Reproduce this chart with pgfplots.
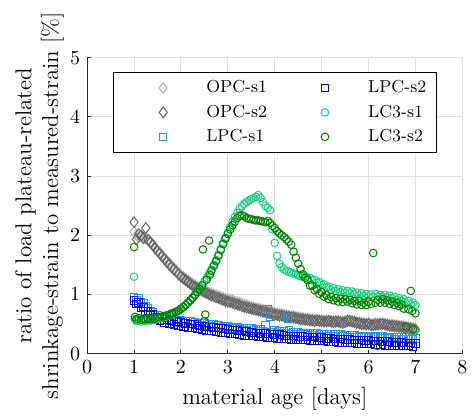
\documentclass[border=0pt]{standalone}
\usepackage{pgfplots}
\pgfplotsset{compat=1.18}
\definecolor{opcA}{RGB}{180,180,180}
\definecolor{opcB}{RGB}{100,100,100}
\definecolor{lpcA}{RGB}{30,150,255}
\definecolor{lpcB}{RGB}{0,0,255}
\definecolor{lcA}{RGB}{20,210,120}
\definecolor{lcB}{RGB}{0,128,0}
\definecolor{gridc}{RGB}{225,225,225}
\begin{document}
\begin{tikzpicture}
\path (-43.65pt,-30.85pt) rectangle (193.35pt,177.15pt);
\begin{axis}[
  scale only axis, width=188pt, height=148.25pt,
  xmin=0, xmax=8, ymin=0, ymax=5,
  xtick={0,1,...,8}, ytick={0,1,...,5},
  axis lines*=left, axis line style={-, black!85, line width=0.5pt},
  tick style={black!85, line width=0.5pt}, major tick length=2pt,
  tick align=inside,
  grid=major, grid style={gridc, line width=0.5pt},
  xlabel={material age [days]},
  ylabel={ratio of load plateau-related\\shrinkage-strain to measured-strain [\%]},
  label style={font=\fontsize{11.5}{13.5}\selectfont},
  every axis y label/.style={at={(axis description cs:-0.043,0.5)}, rotate=90, anchor=south, align=center, font=\fontsize{11.5}{13.5}\selectfont},
  legend columns=3, transpose legend,
  legend cell align=left,
  legend style={at={(0.0684,0.952)}, anchor=north west, font=\fontsize{8.7}{10}\selectfont,
     draw=black, line width=0.5pt, fill=white, row sep=0.6pt,
     /tikz/every even column/.append style={column sep=5pt}},
  every axis plot/.append style={only marks, mark options={line width=0.5pt, fill=none}},
  legend image code/.code={\path[draw=none,fill=none] (0pt,0pt) (41.6pt,0pt); \draw[#1] plot coordinates {(22pt,0pt)};},
]
\addplot[color=opcA, mark=diamond, mark size=2.7pt] coordinates {
(1.00,2.06)(1.05,2.00)(1.10,1.97)(1.15,2.00)(1.20,1.96)(1.25,1.94)(1.30,1.93)(1.35,1.89)(1.40,1.85)(1.45,1.80)
(1.50,1.75)(1.55,1.71)(1.60,1.66)(1.65,1.62)(1.70,1.57)(1.75,1.53)(1.80,1.49)(1.85,1.45)(1.90,1.41)(1.95,1.37)
(2.00,1.33)(2.05,1.30)(2.10,1.27)(2.15,1.24)(2.20,1.21)(2.25,1.18)(2.30,1.16)(2.35,1.13)(2.40,1.11)(2.45,1.09)
(2.50,1.07)(2.55,1.05)(2.60,1.03)(2.65,1.02)(2.70,1.00)(2.75,0.99)(2.80,0.97)(2.85,0.96)(2.90,0.94)(2.95,0.93)
(3.00,0.92)(3.05,0.91)(3.10,0.90)(3.15,0.88)(3.20,0.87)(3.25,0.86)(3.30,0.84)(3.35,0.83)(3.40,0.82)(3.45,0.80)
(3.50,0.79)(3.55,0.78)(3.60,0.77)(3.65,0.76)(3.70,0.75)(3.75,0.74)(3.80,0.73)(3.85,0.72)(3.90,0.71)(3.95,0.70)
(4.00,0.69)(4.05,0.68)(4.10,0.67)(4.15,0.67)(4.20,0.66)(4.25,0.65)(4.30,0.64)(4.35,0.63)(4.40,0.63)(4.45,0.62)
(4.50,0.61)(4.55,0.61)(4.60,0.60)(4.65,0.59)(4.70,0.59)(4.75,0.58)(4.80,0.58)(4.85,0.57)(4.90,0.57)(4.95,0.57)
(5.00,0.56)(5.05,0.56)(5.10,0.56)(5.15,0.56)(5.20,0.55)(5.25,0.55)(5.30,0.55)(5.35,0.55)(5.40,0.54)(5.45,0.54)
(5.50,0.55)(5.55,0.56)(5.60,0.56)(5.65,0.55)(5.70,0.54)(5.75,0.53)(5.80,0.53)(5.85,0.52)(5.90,0.51)(5.95,0.51)
(6.00,0.51)(6.05,0.50)(6.10,0.50)(6.15,0.51)(6.20,0.51)(6.25,0.51)(6.30,0.51)(6.35,0.50)(6.40,0.50)(6.45,0.49)
(6.50,0.49)(6.55,0.48)(6.60,0.48)(6.65,0.47)(6.70,0.47)(6.75,0.46)(6.80,0.45)(6.85,0.45)(6.90,0.44)(6.95,0.43)
(7.00,0.42)};
\addlegendentry{OPC-s1}
\addplot[color=opcB, mark=diamond, mark size=2.7pt] coordinates {
(1.00,2.22)(1.05,1.93)(1.10,2.02)(1.15,1.99)(1.20,1.95)(1.25,2.12)(1.30,1.92)(1.35,1.88)(1.40,1.83)(1.45,1.78)
(1.50,1.73)(1.55,1.69)(1.60,1.64)(1.65,1.59)(1.70,1.55)(1.75,1.50)(1.80,1.46)(1.85,1.42)(1.90,1.38)(1.95,1.34)
(2.00,1.30)(2.05,1.27)(2.10,1.24)(2.15,1.21)(2.20,1.18)(2.25,1.15)(2.30,1.13)(2.35,1.10)(2.40,1.08)(2.45,1.06)
(2.50,1.04)(2.55,1.02)(2.60,1.00)(2.65,0.98)(2.70,0.97)(2.75,0.95)(2.80,0.94)(2.85,0.92)(2.90,0.91)(2.95,0.89)
(3.00,0.88)(3.05,0.87)(3.10,0.86)(3.15,0.84)(3.20,0.83)(3.25,0.82)(3.30,0.80)(3.35,0.79)(3.40,0.78)(3.45,0.77)
(3.50,0.76)(3.55,0.75)(3.60,0.74)(3.65,0.73)(3.70,0.72)(3.75,0.71)(3.80,0.70)(3.85,0.69)(3.90,0.68)(3.95,0.67)
(4.00,0.66)(4.05,0.65)(4.10,0.64)(4.15,0.64)(4.20,0.63)(4.25,0.62)(4.30,0.62)(4.35,0.61)(4.40,0.61)(4.45,0.60)
(4.50,0.59)(4.55,0.58)(4.60,0.58)(4.65,0.57)(4.70,0.57)(4.75,0.56)(4.80,0.56)(4.85,0.55)(4.90,0.56)(4.95,0.55)
(5.00,0.55)(5.05,0.54)(5.10,0.54)(5.15,0.55)(5.20,0.54)(5.25,0.53)(5.30,0.54)(5.35,0.54)(5.40,0.53)(5.45,0.52)
(5.50,0.53)(5.55,0.55)(5.60,0.55)(5.65,0.54)(5.70,0.53)(5.75,0.52)(5.80,0.51)(5.85,0.50)(5.90,0.50)(5.95,0.49)
(6.00,0.50)(6.05,0.48)(6.10,0.48)(6.15,0.49)(6.20,0.49)(6.25,0.50)(6.30,0.50)(6.35,0.49)(6.40,0.48)(6.45,0.47)
(6.50,0.47)(6.55,0.46)(6.60,0.46)(6.65,0.45)(6.70,0.45)(6.75,0.44)(6.80,0.43)(6.85,0.42)(6.90,0.42)(6.95,0.41)
(7.00,0.40)};
\addlegendentry{OPC-s2}
\addplot[color=lpcA, mark=square, mark size=1.9pt] coordinates {
(1.00,0.95)(1.05,0.90)(1.10,0.93)(1.15,0.87)(1.20,0.85)(1.25,0.80)(1.30,0.77)(1.35,0.72)(1.40,0.70)(1.45,0.65)
(1.50,0.65)(1.55,0.61)(1.60,0.62)(1.65,0.58)(1.70,0.60)(1.75,0.56)(1.80,0.58)(1.85,0.54)(1.90,0.57)(1.95,0.53)
(2.00,0.56)(2.05,0.52)(2.10,0.55)(2.15,0.51)(2.20,0.54)(2.25,0.50)(2.30,0.53)(2.35,0.49)(2.40,0.52)(2.45,0.48)
(2.50,0.51)(2.55,0.47)(2.60,0.50)(2.65,0.46)(2.70,0.49)(2.75,0.45)(2.80,0.48)(2.85,0.44)(2.90,0.47)(2.95,0.43)
(3.00,0.46)(3.05,0.42)(3.10,0.45)(3.15,0.42)(3.20,0.44)(3.25,0.41)(3.30,0.43)(3.35,0.40)(3.40,0.43)(3.45,0.39)
(3.50,0.42)(3.55,0.39)(3.60,0.41)(3.65,0.38)(3.70,0.41)(3.75,0.37)(3.80,0.48)(3.85,0.75)(3.90,0.62)(3.95,0.36)
(4.00,0.39)(4.05,0.35)(4.10,0.38)(4.15,0.35)(4.20,0.37)(4.25,0.34)(4.28,0.59)(4.30,0.39)(4.35,0.33)(4.40,0.36)
(4.45,0.33)(4.50,0.36)(4.55,0.32)(4.60,0.35)(4.65,0.32)(4.70,0.35)(4.75,0.31)(4.80,0.34)(4.85,0.31)(4.90,0.34)
(4.95,0.30)(5.00,0.33)(5.05,0.30)(5.10,0.33)(5.15,0.30)(5.20,0.32)(5.25,0.29)(5.30,0.32)(5.35,0.29)(5.40,0.32)
(5.45,0.29)(5.50,0.31)(5.55,0.28)(5.60,0.31)(5.65,0.28)(5.70,0.31)(5.75,0.28)(5.80,0.30)(5.85,0.27)(5.90,0.30)
(5.95,0.27)(6.00,0.30)(6.05,0.27)(6.10,0.29)(6.15,0.27)(6.20,0.29)(6.25,0.26)(6.30,0.29)(6.35,0.26)(6.40,0.28)
(6.45,0.26)(6.50,0.28)(6.55,0.25)(6.60,0.28)(6.65,0.25)(6.70,0.27)(6.75,0.25)(6.80,0.27)(6.85,0.24)(6.90,0.27)
(6.95,0.24)(7.00,0.26)};
\addlegendentry{LPC-s1}
\addplot[color=lpcB, mark=square, mark size=1.9pt] coordinates {
(1.00,0.90)(1.05,0.84)(1.10,0.86)(1.15,0.78)(1.20,0.79)(1.25,0.71)(1.30,0.72)(1.35,0.64)(1.40,0.66)(1.45,0.58)
(1.50,0.62)(1.55,0.55)(1.60,0.60)(1.65,0.53)(1.70,0.58)(1.75,0.51)(1.80,0.56)(1.85,0.49)(1.90,0.54)(1.95,0.47)
(2.00,0.53)(2.05,0.46)(2.10,0.51)(2.15,0.44)(2.20,0.50)(2.25,0.43)(2.30,0.49)(2.35,0.42)(2.40,0.47)(2.45,0.41)
(2.50,0.46)(2.55,0.39)(2.60,0.45)(2.65,0.38)(2.70,0.44)(2.75,0.37)(2.80,0.43)(2.85,0.36)(2.90,0.42)(2.95,0.35)
(3.00,0.41)(3.05,0.34)(3.10,0.40)(3.15,0.33)(3.20,0.39)(3.25,0.32)(3.30,0.38)(3.35,0.31)(3.40,0.37)(3.45,0.30)
(3.50,0.36)(3.55,0.30)(3.60,0.35)(3.65,0.29)(3.70,0.34)(3.75,0.28)(3.80,0.34)(3.85,0.27)(3.90,0.33)(3.95,0.27)
(4.00,0.32)(4.05,0.26)(4.10,0.32)(4.15,0.25)(4.20,0.31)(4.25,0.25)(4.30,0.30)(4.35,0.24)(4.40,0.30)(4.45,0.24)
(4.50,0.29)(4.55,0.23)(4.60,0.29)(4.65,0.23)(4.70,0.28)(4.75,0.22)(4.80,0.28)(4.85,0.22)(4.90,0.27)(4.95,0.21)
(5.00,0.27)(5.05,0.21)(5.10,0.26)(5.15,0.20)(5.20,0.26)(5.25,0.20)(5.30,0.25)(5.35,0.19)(5.40,0.25)(5.45,0.19)
(5.50,0.24)(5.55,0.18)(5.60,0.24)(5.65,0.18)(5.70,0.23)(5.75,0.17)(5.80,0.23)(5.85,0.17)(5.90,0.22)(5.95,0.16)
(6.00,0.22)(6.05,0.16)(6.10,0.21)(6.15,0.15)(6.20,0.21)(6.25,0.15)(6.30,0.20)(6.35,0.14)(6.40,0.20)(6.45,0.14)
(6.50,0.19)(6.55,0.14)(6.60,0.19)(6.65,0.13)(6.70,0.19)(6.75,0.13)(6.80,0.18)(6.85,0.13)(6.90,0.18)(6.95,0.12)
(7.00,0.17)};
\addlegendentry{LPC-s2}
\addplot[color=lcA, mark=o, mark size=1.9pt] coordinates {
(1.00,1.30)(1.02,0.58)(1.05,0.55)(1.10,0.57)(1.15,0.54)(1.20,0.56)(1.25,0.55)(1.30,0.57)(1.35,0.56)(1.40,0.58)
(1.45,0.57)(1.50,0.59)(1.55,0.60)(1.60,0.61)(1.65,0.62)(1.70,0.63)(1.75,0.65)(1.80,0.66)(1.85,0.68)(1.90,0.70)
(1.95,0.72)(2.00,0.75)(2.05,0.78)(2.10,0.82)(2.15,0.86)(2.20,0.90)(2.25,0.95)(2.30,1.00)(2.35,1.05)(2.40,1.11)
(2.45,1.16)(2.50,1.22)(2.55,1.28)(2.60,1.35)(2.65,1.42)(2.70,1.50)(2.75,1.58)(2.80,1.67)(2.85,1.77)(2.90,1.87)
(2.95,1.96)(3.00,2.05)(3.05,2.14)(3.10,2.23)(3.15,2.31)(3.20,2.38)(3.25,2.44)(3.30,2.49)(3.35,2.53)(3.40,2.56)
(3.45,2.59)(3.50,2.61)(3.55,2.63)(3.60,2.65)(3.65,2.68)(3.70,2.63)(3.75,2.56)(3.80,2.50)(3.85,2.46)(3.90,2.42)
(3.95,2.10)(4.00,1.87)(4.05,1.65)(4.10,1.52)(4.15,1.46)(4.20,1.42)(4.25,1.40)(4.30,1.38)(4.35,1.37)(4.40,1.35)
(4.45,1.34)(4.50,1.32)(4.55,1.31)(4.60,1.30)(4.65,1.31)(4.70,1.27)(4.75,1.28)(4.80,1.24)(4.85,1.25)(4.90,1.20)
(4.95,1.21)(5.00,1.16)(5.05,1.17)(5.10,1.12)(5.15,1.13)(5.20,1.08)(5.25,1.11)(5.30,1.06)(5.35,1.09)(5.40,1.04)
(5.45,1.07)(5.50,1.03)(5.55,1.06)(5.60,1.02)(5.65,1.05)(5.70,1.00)(5.75,1.03)(5.80,0.98)(5.85,1.02)(5.90,0.97)
(5.95,1.01)(6.00,0.97)(6.05,1.00)(6.10,0.96)(6.15,1.01)(6.20,0.96)(6.25,0.99)(6.30,0.96)(6.35,0.99)(6.40,0.95)
(6.45,0.98)(6.50,0.93)(6.55,0.96)(6.60,0.91)(6.65,0.94)(6.70,0.89)(6.75,0.92)(6.80,0.86)(6.85,0.89)(6.90,0.83)
(6.95,0.86)(7.00,0.82)};
\addlegendentry{LC3-s1}
\addplot[color=lcB, mark=o, mark size=1.9pt] coordinates {
(1.00,1.80)(1.02,0.62)(1.05,0.58)(1.10,0.60)(1.15,0.57)(1.20,0.59)(1.25,0.58)(1.30,0.60)(1.35,0.58)(1.40,0.61)
(1.45,0.59)(1.50,0.62)(1.55,0.61)(1.60,0.63)(1.65,0.63)(1.70,0.65)(1.75,0.66)(1.80,0.68)(1.85,0.69)(1.90,0.71)
(1.95,0.73)(2.00,0.76)(2.05,0.79)(2.10,0.82)(2.15,0.86)(2.20,0.90)(2.25,0.94)(2.30,0.99)(2.35,1.04)(2.40,1.09)
(2.45,1.15)(2.47,1.76)(2.50,0.55)(2.52,0.66)(2.55,1.25)(2.60,1.91)(2.62,1.33)(2.65,1.40)(2.70,1.48)(2.75,1.56)
(2.80,1.65)(2.85,1.75)(2.90,1.85)(2.95,1.94)(3.00,2.02)(3.05,2.10)(3.10,2.17)(3.15,2.23)(3.20,2.29)(3.25,2.33)
(3.30,2.34)(3.35,2.32)(3.40,2.29)(3.45,2.28)(3.50,2.27)(3.55,2.26)(3.60,2.25)(3.65,2.25)(3.70,2.24)(3.75,2.23)
(3.80,2.22)(3.85,2.24)(3.90,2.21)(3.95,2.16)(4.00,2.12)(4.05,2.07)(4.10,2.03)(4.15,2.00)(4.20,1.97)(4.25,1.93)
(4.30,1.89)(4.35,1.84)(4.40,1.72)(4.45,1.62)(4.50,1.52)(4.55,1.43)(4.60,1.34)(4.65,1.28)(4.70,1.24)(4.75,1.15)
(4.80,1.15)(4.85,1.07)(4.90,1.09)(4.95,1.01)(5.00,1.04)(5.05,0.96)(5.10,0.99)(5.15,0.92)(5.20,0.96)(5.25,0.90)
(5.30,0.94)(5.35,0.88)(5.40,0.93)(5.45,0.87)(5.50,0.92)(5.55,0.88)(5.60,0.91)(5.65,0.85)(5.70,0.89)(5.75,0.83)
(5.80,0.89)(5.85,0.82)(5.90,0.86)(5.95,0.82)(6.00,0.88)(6.05,0.84)(6.10,1.70)(6.15,0.86)(6.19,0.13)(6.20,0.91)
(6.25,0.86)(6.30,0.92)(6.35,0.86)(6.40,0.90)(6.45,0.84)(6.50,0.88)(6.55,0.82)(6.60,0.86)(6.65,0.80)(6.70,0.83)
(6.75,0.76)(6.80,0.46)(6.85,0.75)(6.90,1.06)(6.93,0.72)(6.95,0.41)(7.00,0.68)};
\addlegendentry{LC3-s2}
\end{axis}
\end{tikzpicture}
\end{document}
